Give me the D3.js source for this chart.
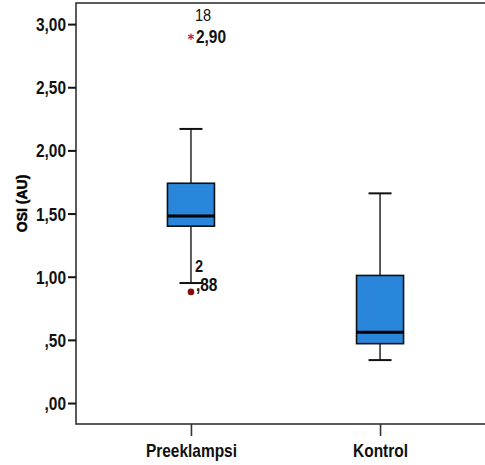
<!DOCTYPE html>
<html>
<head>
<meta charset="utf-8">
<script src="https://cdn.jsdelivr.net/npm/d3@7"></script>
<style>
  body { margin: 0; background: #fff; }
  svg text { font-family: "Liberation Sans Narrow", "Arial Narrow", "Liberation Sans", Arial, sans-serif; }
</style>
</head>
<body>
<div id="chart"></div>
<script>
var width = 485,
    height = 465;

// data
var groups = ["Preeklampsi", "Kontrol"];
var whiskerLow = [0.95, 0.34];
var q1 = [1.40, 0.47];
var median = [1.48, 0.56];
var q3 = [1.74, 1.01];
var whiskerHigh = [2.17, 1.66];
var outlierGroup = ["Preeklampsi", "Preeklampsi"];
var outlierValue = [2.90, 0.88];
var outlierCase = ["18", "2"];
var outlierType = ["extreme", "outlier"];
var yTicks = [0, 0.5, 1, 1.5, 2, 2.5, 3];

var frame = { left: 76, top: 3, right: 495, bottom: 424 };
var squeeze = 0.86; // no narrow font installed, so squeeze the bold sans

var svg = d3.select("#chart").append("svg")
    .attr("width", width)
    .attr("height", height);

var y = d3.scaleLinear()
    .domain([-0.166, 3.167])
    .range([frame.bottom, frame.top]);

var x = d3.scalePoint()
    .domain(groups)
    .range([frame.left, frame.right])
    .padding(0.608);

function fmt(v) {
    var s = d3.format(".2f")(v).replace(".", ",");
    return s.replace(/^0,/, ",");
}

function narrow(sel) {
    sel.each(function() {
        var t = d3.select(this);
        var tx = +t.attr("x") || 0;
        t.attr("x", tx / squeeze).attr("transform", "scale(" + squeeze + ",1)");
    });
}

// frame
svg.append("rect")
    .attr("x", frame.left)
    .attr("y", frame.top)
    .attr("width", frame.right - frame.left)
    .attr("height", frame.bottom - frame.top)
    .attr("fill", "none")
    .attr("stroke", "#333")
    .attr("stroke-width", 1.6);

// y axis
var yAxis = svg.append("g")
    .attr("transform", "translate(" + frame.left + ",0)")
    .call(d3.axisLeft(y).tickValues(yTicks).tickFormat(fmt).tickSize(8).tickPadding(2));
yAxis.select(".domain").remove();
yAxis.selectAll(".tick line").attr("stroke", "#111").attr("stroke-width", 2);
yAxis.selectAll(".tick text")
    .attr("fill", "#111")
    .style("font-size", "18px")
    .style("font-weight", "bold")
    .attr("dy", "0.36em")
    .call(narrow);

// x axis
var xAxis = svg.append("g")
    .attr("transform", "translate(0," + frame.bottom + ")")
    .call(d3.axisBottom(x).tickSize(12).tickPadding(6));
xAxis.select(".domain").remove();
xAxis.selectAll(".tick line").attr("stroke", "#333").attr("stroke-width", 1.6);
xAxis.selectAll(".tick text")
    .attr("fill", "#111")
    .style("font-size", "18px")
    .style("font-weight", "bold")
    .attr("dy", "0.85em")
    .call(narrow);

// y title
svg.append("text")
    .attr("transform", "translate(27," + y(1.58) + ") rotate(-90)")
    .attr("text-anchor", "middle")
    .style("font-family", "'Liberation Sans', Arial, sans-serif")
    .style("font-size", "14px")
    .style("font-weight", "bold")
    .attr("fill", "#000")
    .attr("stroke", "#000")
    .attr("stroke-width", 0.5)
    .text("OSI (AU)");

var boxW = 47,
    capW = 23;

var boxes = groups.map(function(g, i) {
    return { g: g, lo: whiskerLow[i], q1: q1[i], med: median[i], q3: q3[i], hi: whiskerHigh[i] };
});

var b = svg.append("g").selectAll("g")
    .data(boxes)
    .enter().append("g");

// whisker stems
b.append("line")
    .attr("x1", function(d) { return x(d.g); })
    .attr("x2", function(d) { return x(d.g); })
    .attr("y1", function(d) { return y(d.hi); })
    .attr("y2", function(d) { return y(d.q3); })
    .attr("stroke", "#333").attr("stroke-width", 1.6);
b.append("line")
    .attr("x1", function(d) { return x(d.g); })
    .attr("x2", function(d) { return x(d.g); })
    .attr("y1", function(d) { return y(d.q1); })
    .attr("y2", function(d) { return y(d.lo); })
    .attr("stroke", "#333").attr("stroke-width", 1.6);

// caps
["hi", "lo"].forEach(function(k) {
    b.append("line")
        .attr("x1", function(d) { return x(d.g) - capW / 2; })
        .attr("x2", function(d) { return x(d.g) + capW / 2; })
        .attr("y1", function(d) { return y(d[k]); })
        .attr("y2", function(d) { return y(d[k]); })
        .attr("stroke", "#111").attr("stroke-width", 2);
});

// box
b.append("rect")
    .attr("x", function(d) { return x(d.g) - boxW / 2; })
    .attr("y", function(d) { return y(d.q3); })
    .attr("width", boxW)
    .attr("height", function(d) { return y(d.q1) - y(d.q3); })
    .attr("fill", "#2986da")
    .attr("stroke", "#111")
    .attr("stroke-width", 1.6);

// median
b.append("line")
    .attr("x1", function(d) { return x(d.g) - boxW / 2; })
    .attr("x2", function(d) { return x(d.g) + boxW / 2; })
    .attr("y1", function(d) { return y(d.med); })
    .attr("y2", function(d) { return y(d.med); })
    .attr("stroke", "#000").attr("stroke-width", 3);

// outliers
var outliers = outlierValue.map(function(v, i) {
    return { g: outlierGroup[i], v: v, c: outlierCase[i], t: outlierType[i] };
});

var o = svg.append("g").selectAll("g")
    .data(outliers)
    .enter().append("g")
    .attr("transform", function(d) { return "translate(" + x(d.g) + "," + y(d.v) + ")"; });

o.filter(function(d) { return d.t === "outlier"; })
    .append("circle")
    .attr("r", 3.3)
    .attr("fill", "#8b0a0a");

o.filter(function(d) { return d.t === "extreme"; })
    .append("path")
    .attr("d", d3.symbol().type(d3.symbolAsterisk).size(30))
    .attr("fill", "none")
    .attr("stroke", "#c0282d")
    .attr("stroke-width", 1.2);

// value labels
o.append("text")
    .attr("x", 5)
    .attr("dy", function(d) { return d.t === "extreme" ? "0.36em" : "-0.05em"; })
    .style("font-size", "18px")
    .style("font-weight", "bold")
    .attr("fill", "#111")
    .text(function(d) { return fmt(d.v); })
    .call(narrow);

// case labels
o.append("text")
    .attr("x", 4)
    .attr("dy", function(d) { return d.t === "extreme" ? "-0.9em" : "-1.15em"; })
    .style("font-size", "17px")
    .style("font-weight", function(d) { return d.t === "extreme" ? "normal" : "bold"; })
    .attr("fill", "#111")
    .text(function(d) { return d.c; })
    .call(narrow);
</script>
</body>
</html>
